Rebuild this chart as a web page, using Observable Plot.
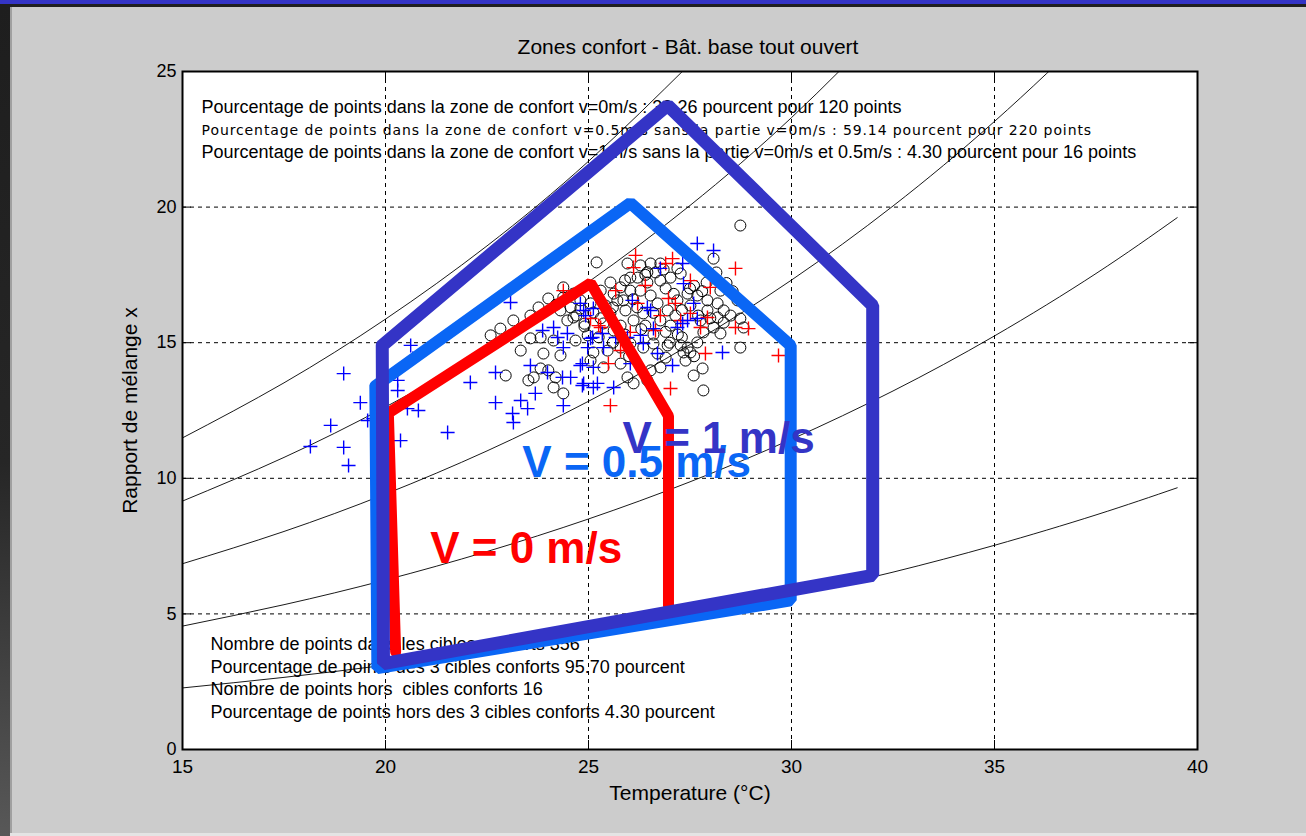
<!DOCTYPE html>
<html><head><meta charset="utf-8">
<script src="https://cdn.jsdelivr.net/npm/d3@7"></script>
<script src="https://cdn.jsdelivr.net/npm/@observablehq/plot@0.6"></script>
<style>
body{margin:0;width:1306px;height:836px;overflow:hidden;background:#cccccc;position:relative;font-family:"Liberation Sans",Arial,sans-serif}
#topbar{position:absolute;left:0;top:0;width:1306px;height:4px;background:#3434c6;z-index:3}
#topline{position:absolute;left:0;top:4px;width:1306px;height:3px;background:#202020;z-index:3}
#leftbar{position:absolute;left:0;top:4px;width:10px;height:832px;background:linear-gradient(#1e1e1e,#262626 55%,#585858);z-index:3}
#leftedge{position:absolute;left:10px;top:7px;width:2px;height:829px;background:#a0a0a0;z-index:3}
#bottomline{position:absolute;left:10px;top:833px;width:1296px;height:3px;background:#e4e4e4;z-index:3}
#title{position:absolute;top:36px;left:688px;transform:translateX(-50%);font-size:21px;line-height:22px;white-space:nowrap;color:#000}
#chart{position:absolute;left:0;top:60px}
</style></head>
<body>
<div id="topbar"></div><div id="topline"></div><div id="leftbar"></div><div id="leftedge"></div><div id="bottomline"></div>
<div id="title"></div>
<div id="chart"></div>
<script>
// ---------- data ----------
const chartTitle = "Zones confort - Bât. base tout ouvert";
const xLabel = "Temperature (°C)";
const yLabel = "Rapport de mélange x";
const xTicks = [15, 20, 25, 30, 35, 40];
const yTicks = [0, 5, 10, 15, 20, 25];
const xGrid = [20, 25, 30, 35];
const yGrid = [5, 10, 15, 20];

// humidity curves
const rhTemps = [15, 17.5, 20, 22.5, 25, 27.5, 30, 32.5, 35, 37.5, 39.5];
const rhLevels = [20, 40, 60, 80, 100];
const rh20 = [2.27, 2.66, 3.11, 3.63, 4.22, 4.90, 5.67, 6.54, 7.53, 8.65, 9.65];
const rh40 = [4.55, 5.34, 6.25, 7.30, 8.50, 9.87, 11.44, 13.22, 15.25, 17.55, 19.61];
const rh60 = [6.85, 8.04, 9.42, 11.01, 12.84, 14.93, 17.31, 20.04, 23.16, 26.70, 29.88];
const rh80 = [9.16, 10.77, 12.63, 14.77, 17.24, 20.06, 23.30, 27.02];
const rh100 = [11.49, 13.52, 15.87, 18.57, 21.69, 25.28];

// black circles
const circleT = [28.74,28.08,25.96,26.28,26.53,26.77,26.03,25.54,25.79,25.62,25.86,26.28,26.45,26.77,27.02,27.27,27.44,27.68,27.93,28.18,28.33,28.50,27.93,28.18,28.33,28.08,27.83,28.25,28.74,28.82,28.74,27.68,27.44,27.34,27.51,26.95,26.60,26.35,26.03,25.79,25.47,25.12,25.05,25.37,25.79,25.96,26.11,26.45,26.53,26.77,25.05,24.80,24.56,24.31,24.63,24.38,25.54,25.37,25.62,26.11,26.35,26.70,26.95,27.19,26.21,26.03,25.71,27.81,27.83,24.01,23.77,23.57,23.15,22.59,22.83,23.57,23.82,24.14,23.89,23.82,23.65,23.52,24.14,24.38,24.98,24.48,24.63,24.80,24.38,25.12,25.20,26.65,27.19,27.91,28.15,28.25,28.67,27.02,27.27,27.39,27.59,26.90,25.30,25.42,25.91,26.53,26.77,27.14,27.51,27.76,26.40,25.79,24.68,23.33,22.96,24.01,24.31,24.19,26.90,27.30,26.20,27.60,28.40,26.60,27.00,25.60,26.85,27.70,25.25,24.90,28.55,26.45,27.20,25.90,26.40,26.10,26.60,27.10,27.50,25.60,25.30,26.90,27.30,26.30,25.90,24.70,24.20,24.90,27.80,28.00,26.00,26.70,27.60];
const circleX = [19.32,18.10,17.92,17.85,17.92,17.92,17.40,17.22,17.04,16.81,16.56,16.92,17.22,17.29,17.40,17.55,16.81,16.74,16.56,16.45,16.19,16.00,16.19,15.93,15.74,15.56,15.38,15.34,15.89,15.56,14.82,15.01,14.82,14.64,14.64,14.90,14.97,14.82,14.97,14.82,14.71,14.64,14.34,14.09,14.23,13.72,13.50,13.61,13.98,14.09,16.45,16.56,16.30,16.19,16.81,16.67,16.08,15.71,15.45,15.82,16.08,16.45,16.19,16.56,17.40,16.92,16.56,14.05,13.24,16.63,16.30,16.00,15.82,15.27,15.52,15.16,15.19,15.08,14.60,14.05,13.72,13.61,13.35,13.13,15.27,15.82,15.93,16.26,17.04,16.11,17.96,17.59,17.74,17.22,17.59,16.92,16.56,15.63,14.90,14.34,13.79,14.45,16.92,16.37,16.19,16.74,15.82,16.00,16.37,15.82,15.63,15.63,15.08,14.71,13.79,13.98,14.53,13.72,17.00,16.20,16.30,17.10,17.20,15.30,15.00,15.00,17.70,16.00,15.20,15.70,16.90,17.60,15.30,17.30,17.50,16.60,16.10,16.80,17.00,16.30,15.90,15.40,15.20,15.50,15.30,16.00,16.40,15.60,16.90,15.90,14.50,14.60,14.50];

// blue crosses
const blueT = [18.15,18.97,19.38,18.65,19.56,18.97,19.09,20.62,20.67,20.30,20.54,20.81,20.30,20.37,19.83,19.70,21.53,22.09,22.71,22.71,23.13,23.15,23.50,23.69,23.08,23.57,23.99,24.36,24.80,24.38,24.85,25.12,23.87,24.14,24.93,25.05,27.68,28.08,27.32,26.77,27.34,26.45,26.08,26.53,27.59,27.68,27.44,27.32,27.19,26.60,26.28,25.96,25.67,25.34,25.10,24.98,24.85,25.12,24.88,25.22,25.62,26.03,26.35,26.70,27.07,28.30,24.48,24.38,24.24,24.56,25.37,24.88,25.12,24.80,23.33];
const blueX = [11.17,13.86,12.79,11.95,12.13,11.14,10.47,14.90,14.42,13.24,12.57,12.50,13.61,11.39,11.50,12.20,11.69,13.53,13.90,12.79,12.39,12.06,12.57,13.13,16.48,14.16,13.90,13.72,14.16,12.68,13.42,13.35,15.45,15.56,16.00,15.16,18.66,18.40,17.92,17.74,17.18,16.30,16.56,16.19,16.45,15.89,15.82,15.71,15.56,15.52,15.27,15.19,15.19,15.34,15.19,14.82,14.23,14.09,13.50,13.50,13.35,14.23,14.97,14.60,14.16,14.64,15.34,14.82,15.19,13.72,14.82,16.19,16.26,16.45,12.87];

// red crosses
const redT = [26.16,27.07,26.90,28.62,24.38,27.51,28.00,26.21,26.97,27.14,27.51,26.77,28.62,28.94,27.88,25.49,25.30,25.05,29.68,27.02,27.93,27.76,26.03,25.54,26.11,25.25,27.27,25.67,26.40,25.79,26.65];
const redX = [18.22,18.10,17.92,17.74,16.92,17.29,17.04,16.45,16.63,16.45,16.08,16.00,15.56,15.52,14.60,14.23,15.56,15.89,14.53,13.31,15.93,15.56,15.38,12.68,17.77,15.63,15.82,16.92,17.11,14.71,15.45];

// comfort zones
const zone0T = [20.25, 20.07, 25.05, 26.97, 26.97];
const zone0X = [3.6, 12.4, 17.2, 12.3, 5.3];
const zone05T = [19.75, 26.03, 29.98, 29.98, 19.80, 19.75];
const zone05X = [13.4, 20.15, 14.9, 5.5, 3.0, 13.4];
const zone1T = [19.92, 26.95, 32.0, 32.0, 19.95, 19.92];
const zone1X = [14.9, 23.75, 16.37, 6.42, 3.17, 14.9];

const zoneLabels = ["V = 0 m/s", "V = 0.5 m/s", "V = 1 m/s"];
const zoneLabelT = [21.1, 23.37, 25.84];
const zoneLabelX = [7.41, 10.55, 11.47];

const notesTop = [
  "Pourcentage de points dans la zone de confort v=0m/s : 32.26 pourcent pour 120 points",
  "Pourcentage de points dans la zone de confort v=0.5m/s sans la partie v=0m/s : 59.14 pourcent pour 220 points",
  "Pourcentage de points dans la zone de confort v=1m/s sans la partie v=0m/s et 0.5m/s : 4.30 pourcent pour 16 points"
];
const notesTopT = [15.47, 15.47, 15.47];
const notesTopX = [23.67, 22.82, 22.01];
const notesBottom = [
  "Nombre de points dans les cibles conforts 356",
  "Pourcentage de points des 3 cibles conforts 95.70 pourcent",
  "Nombre de points hors  cibles conforts 16",
  "Pourcentage de points hors des 3 cibles conforts 4.30 pourcent"
];
const notesBottomT = [15.69, 15.69, 15.69, 15.69];
const notesBottomX = [3.87, 3.02, 2.21, 1.36];

// ---------- build ----------
const zip = (ts, xs) => xs.map((x, i) => ({T: ts[i], x}));
const rhRows = [rh20, rh40, rh60, rh80, rh100].flatMap((vals, j) => vals.map((v, i) => ({T: rhTemps[i], x: v, rh: rhLevels[j]})));
const circles = zip(circleT, circleX);
const blues = zip(blueT, blueX);
const reds = zip(redT, redX);
const z0 = zip(zone0T, zone0X), z05 = zip(zone05T, zone05X), z1 = zip(zone1T, zone1X);
const lab = zoneLabels.map((t, i) => ({t, T: zoneLabelT[i], x: zoneLabelX[i]}));
const nTop = notesTop.map((t, i) => ({t, T: notesTopT[i], x: notesTopX[i]}));
const nBot = notesBottom.map((t, i) => ({t, T: notesBottomT[i], x: notesBottomX[i]}));

const plusSymbol = {draw(ctx, size) { const r = Math.sqrt(size / Math.PI); ctx.moveTo(-r, 0); ctx.lineTo(r, 0); ctx.moveTo(0, -r); ctx.lineTo(0, r); }};

const W = 1306, H = 776, mL = 182, mR = 109, mT = 11, mB = 87;
const iW = W - mL - mR, iH = H - mT - mB;
const FF = "Liberation Sans, Arial, sans-serif";

const chart = Plot.plot({
  width: W, height: H, marginLeft: mL, marginRight: mR, marginTop: mT, marginBottom: mB,
  style: {background: "transparent", fontFamily: FF, fontSize: "18px", color: "black", overflow: "visible"},
  x: {domain: [15, 40]},
  y: {domain: [0, 25]},
  marks: [
    Plot.frame({fill: "white"}),
    Plot.gridX(xGrid, {stroke: "black", strokeOpacity: 1, strokeWidth: 1, strokeDasharray: "4,4"}),
    Plot.gridY(yGrid, {stroke: "black", strokeOpacity: 1, strokeWidth: 1, strokeDasharray: "4,4"}),
    Plot.line(rhRows, {x: "T", y: "x", z: "rh", curve: "natural", stroke: "black", strokeWidth: 0.9, clip: true}),
    Plot.dot(circles, {x: "T", y: "x", r: 5.5, stroke: "black", fill: "none", strokeWidth: 1}),
    Plot.dot(reds, {x: "T", y: "x", symbol: plusSymbol, r: 7, stroke: "#ff0000", fill: "none", strokeWidth: 1.4}),
    Plot.dot(blues, {x: "T", y: "x", symbol: plusSymbol, r: 7, stroke: "#0000ff", fill: "none", strokeWidth: 1.4}),
    Plot.text(nTop.slice(0, 1), {x: "T", y: "x", text: "t", textAnchor: "start", fontSize: 18, fontFamily: FF, fill: "black"}),
    Plot.text(nTop.slice(1, 2), {x: "T", y: "x", text: "t", textAnchor: "start", fontSize: 14, fontFamily: "DejaVu Sans", fill: "black"}),
    Plot.text(nTop.slice(2), {x: "T", y: "x", text: "t", textAnchor: "start", fontSize: 18, fontFamily: FF, fill: "black"}),
    Plot.text(nBot, {x: "T", y: "x", text: "t", textAnchor: "start", fontSize: 18, fontFamily: FF, fill: "black"}),
    Plot.line(z0, {x: "T", y: "x", stroke: "#ff0000", strokeWidth: 11, strokeLinejoin: "miter"}),
    Plot.line(z05, {x: "T", y: "x", stroke: "#0a66f5", strokeWidth: 12, strokeLinejoin: "miter"}),
    Plot.line(z1, {x: "T", y: "x", stroke: "#3434c6", strokeWidth: 13, strokeLinejoin: "miter"}),
    Plot.text(lab.slice(0, 1), {x: "T", y: "x", text: "t", textAnchor: "start", fontSize: 44, fontWeight: "bold", fontFamily: FF, fill: "#ff0000"}),
    Plot.text(lab.slice(1, 2), {x: "T", y: "x", text: "t", textAnchor: "start", fontSize: 44, fontWeight: "bold", fontFamily: FF, fill: "#0a66f5"}),
    Plot.text(lab.slice(2), {x: "T", y: "x", text: "t", textAnchor: "start", fontSize: 44, fontWeight: "bold", fontFamily: FF, fill: "#3434c6"}),
    Plot.tickX(xTicks, {x: d => d, insetTop: iH - 9, stroke: "black"}),
    Plot.tickX(xTicks, {x: d => d, insetBottom: iH - 9, stroke: "black"}),
    Plot.tickY(yTicks, {y: d => d, insetRight: iW - 9, stroke: "black"}),
    Plot.tickY(yTicks, {y: d => d, insetLeft: iW - 9, stroke: "black"}),
    Plot.axisX(xTicks, {tickSize: 0, tickPadding: 10, label: null, fontSize: 19}),
    Plot.axisY(yTicks, {tickSize: 0, tickPadding: 6, label: null, fontSize: 18}),
    Plot.text([xLabel], {frameAnchor: "bottom", dy: 50, fontSize: 21, fill: "black"}),
    Plot.text([yLabel], {frameAnchor: "left", dx: -52, rotate: -90, textAnchor: "middle", fontSize: 21, fill: "black"}),
    Plot.frame({stroke: "black", strokeWidth: 2})
  ]
});
// letter spacing of the second (smaller) note line
chart.querySelectorAll("text").forEach(t => { if (t.textContent === notesTop[1]) t.style.letterSpacing = "0.9px"; });
document.getElementById("chart").appendChild(chart);
document.getElementById("title").textContent = chartTitle;
</script>
</body></html>
